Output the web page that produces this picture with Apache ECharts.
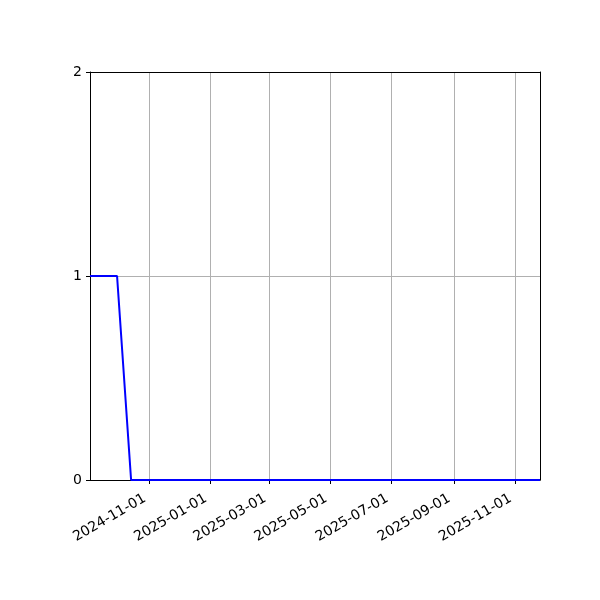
<!DOCTYPE html>
<html><head><meta charset="utf-8">
<script src="https://cdn.jsdelivr.net/npm/echarts@6/dist/echarts.min.js"></script>
<style>html,body{margin:0;padding:0;background:#fff}#c{width:600px;height:600px}</style>
</head><body><div id="c"></div>
<script>
const dates = ['2024-09-03', '2024-09-30', '2024-10-14', '2025-11-26'];
const values = [1, 1, 0, 0];
const xTickLabels = ['2024-11-01', '2025-01-01', '2025-03-01', '2025-05-01', '2025-07-01', '2025-09-01', '2025-11-01'];
const yTicks = [0, 1, 2];

const ts = s => new Date(s + 'T00:00:00Z').getTime();
const tickVals = xTickLabels.map(ts);
const font = 'DejaVu Sans';
const xMin = ts(dates[0]), xMax = ts(dates[dates.length - 1]);
const chart = echarts.init(document.getElementById('c'));
chart.setOption({
  animation: false,
  grid: { left: 90, right: 60, top: 72, bottom: 120, show: false },
  xAxis: [{
    type: 'value', min: xMin, max: xMax,
    axisLine: { show: true, onZero: false, lineStyle: { color: '#000', width: 1 } },
    axisTick: { show: true, length: 4, lineStyle: { color: '#000' }, customValues: tickVals },
    axisLabel: {
      customValues: tickVals, rotate: 30, color: '#000', fontFamily: font, fontSize: 14, margin: 15,
      padding: [0, 5, 0, 0],
      formatter: v => new Date(v).toISOString().slice(0, 10)
    },
    splitLine: { show: true, lineStyle: { color: '#b0b0b0', width: 1 } }
  }, {
    type: 'value', min: xMin, max: xMax, position: 'top',
    axisLine: { show: true, onZero: false, lineStyle: { color: '#000', width: 1 } },
    axisTick: { show: false }, axisLabel: { show: false }, splitLine: { show: false }
  }],
  yAxis: [{
    type: 'value', min: 0, max: 2, interval: 1,
    axisLine: { show: true, lineStyle: { color: '#000', width: 1 } },
    axisTick: { show: true, length: 4, lineStyle: { color: '#000' } },
    axisLabel: { color: '#000', fontFamily: font, fontSize: 14, margin: 8, formatter: v => yTicks.includes(v) ? String(v) : '' },
    splitLine: { show: true, lineStyle: { color: '#b0b0b0', width: 1 } }
  }, {
    type: 'value', min: 0, max: 2, interval: 1, position: 'right',
    axisLine: { show: true, onZero: false, lineStyle: { color: '#000', width: 1 } },
    axisTick: { show: false }, axisLabel: { show: false }, splitLine: { show: false }
  }],
  series: [{
    type: 'line',
    data: dates.map((d, i) => [ts(d), values[i]]),
    showSymbol: false, symbol: 'none',
    lineStyle: { color: '#0000ff', width: 2 },
    z: 5
  }]
});
</script></body></html>
